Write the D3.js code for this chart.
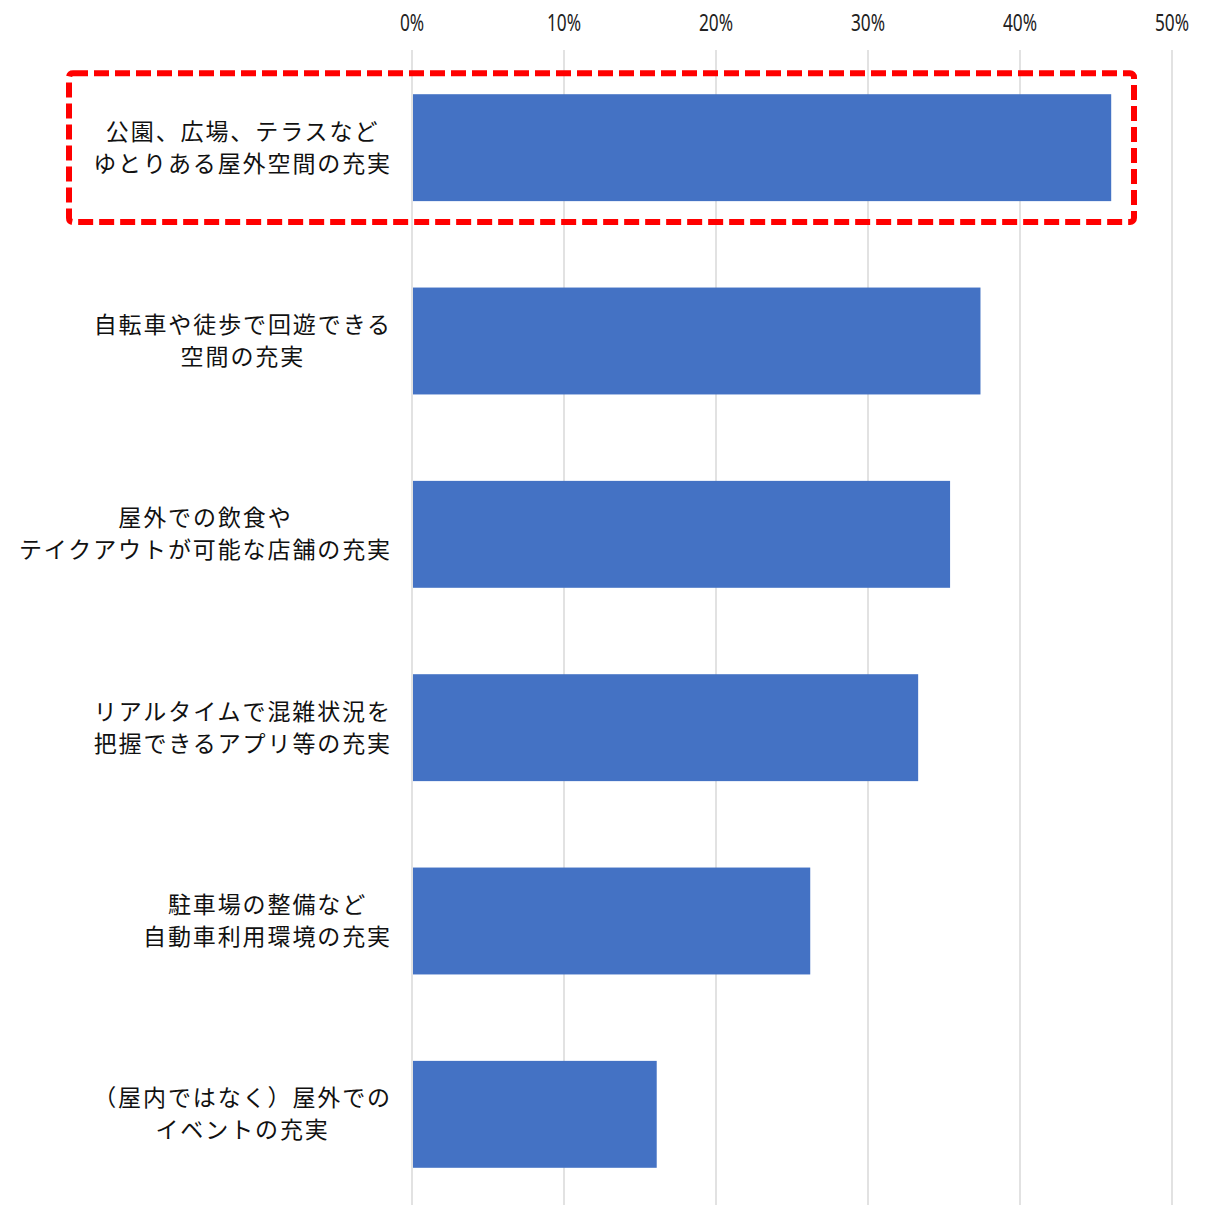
<!DOCTYPE html>
<html><head><meta charset="utf-8">
<script src="https://cdn.jsdelivr.net/npm/d3@7"></script>
<style>body{margin:0;background:#fff}</style>
</head><body>
<svg id="c" width="1220" height="1205"></svg>
<script>
const categories = [
  ["公園、広場、テラスなど","ゆとりある屋外空間の充実"],
  ["自転車や徒歩で回遊できる","空間の充実"],
  ["屋外での飲食や","テイクアウトが可能な店舗の充実"],
  ["リアルタイムで混雑状況を","把握できるアプリ等の充実"],
  ["駐車場の整備など","自動車利用環境の充実"],
  ["（屋内ではなく）屋外での","イベントの充実"]
];
const values = [46.0, 37.4, 35.4, 33.3, 26.2, 16.1];
const tickValues = [0,10,20,30,40,50];
const tickLabels = ["0%","10%","20%","30%","40%","50%"];

const svg = d3.select("#c");
const x = d3.scaleLinear().domain([0,50]).range([412,1172]);
const y = d3.scaleBand().domain(d3.range(categories.length)).range([51,1211]).paddingInner(0.447).paddingOuter(0.2235);

// gridlines
svg.append("g").selectAll("line").data(tickValues).join("line")
  .attr("x1",d=>x(d)).attr("x2",d=>x(d)).attr("y1",50).attr("y2",1205)
  .attr("stroke","#d9d9d9").attr("stroke-width",1.5);

// tick labels (narrow)
svg.append("g").selectAll("text").data(tickValues).join("text")
  .attr("transform",d=>`translate(${x(d)},31) scale(0.72,1)`).attr("text-anchor","middle")
  .attr("font-family","'Noto Sans',sans-serif")
  .attr("font-size",24).attr("fill","#222")
  .text((d,i)=>tickLabels[i]);

// bars
svg.append("g").selectAll("rect").data(values).join("rect")
  .attr("x",x(0)+1).attr("y",(d,i)=>y(i)).attr("width",d=>x(d)-x(0)-1).attr("height",y.bandwidth())
  .attr("fill","#4472C4");

// labels
const lg = svg.append("g");
categories.forEach((lines,i)=>{
  const cy = y(i)+y.bandwidth()/2;
  const t = lg.append("text").attr("font-family","'Noto Sans CJK JP',sans-serif")
    .attr("font-size",23).attr("letter-spacing",1.9).attr("fill","#111").attr("text-anchor","middle");
  lines.forEach((l,j)=>{
    t.append("tspan").attr("x",0).attr("y",cy + (j - (lines.length-1)/2)*32 + 8).text(l);
  });
  const w = d3.max(t.selectAll("tspan").nodes(), n=>n.getComputedTextLength());
  t.selectAll("tspan").attr("x", 392 - w/2);
});

// highlight box around first category
svg.append("rect")
  .attr("x",69).attr("y",y(0)-21).attr("width",x(47.5)-69).attr("height",y.bandwidth()+42)
  .attr("rx",4).attr("fill","none").attr("stroke","#ff0000").attr("stroke-width",6)
  .attr("stroke-dasharray","15,6");
</script>
</body></html>
